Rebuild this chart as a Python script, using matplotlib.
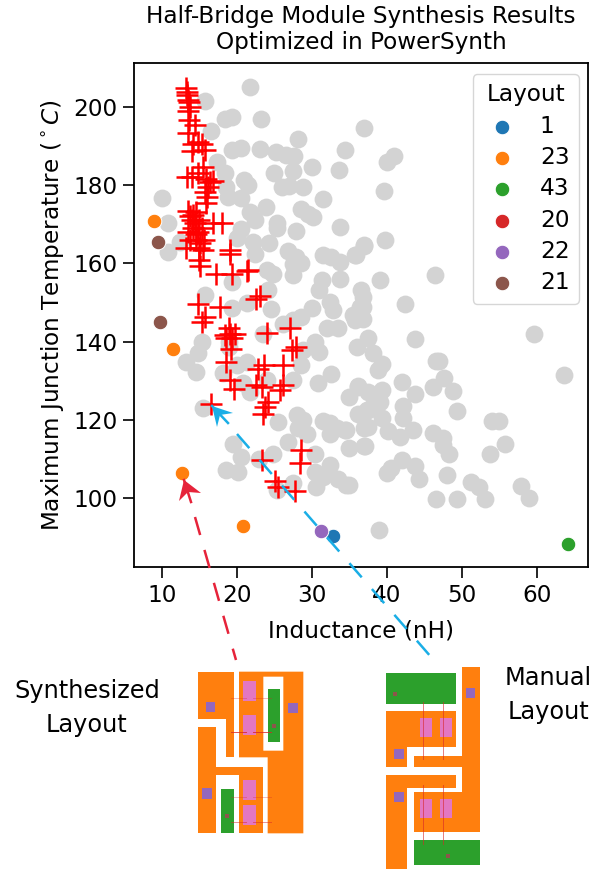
import matplotlib
matplotlib.use("Agg")
import matplotlib.pyplot as plt
from matplotlib.patches import Polygon, Rectangle

# all layouts in the background
other_x = [21.8,15.8,18.4,19.3,23.2,16.6,28.2,37,19.4,20.5,23.1,25.2,26.6,27.6,34.4,30,33.6,27.5,25,17.3,
           18.4,20.9,21.5,26,27,28.8,18.6,10,18.8,20.6,31.5,23.9,21.7,28.5,29.5,30.2,22.4,25.3,25.3,10.8,
           20.5,27.9,33.7,20,22.2,24.3,12.4,10.8,26.8,27.9,28.6,31.5,32.6,33.7,35.8,37,22.4,24,24.8,27.5,
           27.5,33.7,31.3,31,32.4,24.2,19.3,15.7,21.3,24.5,19.3,36.6,35.5,30,28.6,32.8,36.8,
           26.2,27.5,32,33.5,36,15.3,14.8,13.2,14.5,19,19,21.3,20,18.2,20.8,21.7,24,23.5,28.6,27.5,28.8,
           31,30.4,30.8,32.5,36.1,35,36.2,37.3,37,25.5,28,28.8,28.2,29.3,31.5,32.4,32.4,33.3,34.4,35,37,
           30.4,26.8,24.8,19.5,20.5,18.5,20.2,15.5,23,32.4,30.4,31.5,33.5,34.6,30.5,27.5,25.3,
           41,40,39.6,39.7,37,35.9,46.4,39.1,36.8,42.4,36.4,36.8,35.7,37.5,43.7,59.6,38.2,39.3,38.8,46.5,
           46.9,47.6,46.1,48.8,63.6,42,43.8,36.2,37.5,39.4,39.1,42.2,49.4,37.5,38,39.4,42.2,37.5,40.1,43.5,
           41.8,34.6,46.2,47.5,47.5,48.3,54,55,55.7,53.7,37.1,42,40.6,40,43.8,44.3,48,51.2,52.3,53.1,57.9,
           58.9,46.5,49.4,39,35]
other_y = [205,201.4,196.8,197.3,196.8,193.7,191.8,194.6,188.9,189.6,189.3,188.4,187.6,187.5,189,184.6,183.9,183.6,183,186,
           183,181.4,180,179.6,179.7,179.5,179.6,176.7,177,176.8,176.4,174.4,173.2,173.8,172.6,171.9,171.2,170.2,169,170.2,
           168.9,168.2,169.2,166.4,165.5,165.1,165.5,162.8,163.2,161.7,160.1,162.1,161.7,160.4,162.1,164.4,162.5,158.3,157.4,159.8,
           157,156,155.7,153.2,150.2,153.3,155.3,152,149.9,148.3,148.5,153.2,146.8,148.5,146.3,148,148.9,
           144.6,145.5,143.4,143.4,138.7,140,137,134.7,132.3,140,138.7,134.8,134,131.9,129.3,127.2,130.2,142,134,130.2,137.8,
           137.4,140,129.3,131.7,128.6,125.9,121.6,122.5,117.8,119.5,121.2,119.9,117.8,116.4,119.8,119.1,116.5,117.8,117.4,112.7,113.3,
           111.4,114.4,111.4,113.8,110.4,107.2,106.6,123.1,110,108.4,106.7,105.5,105,103.3,102.9,103.8,102,
           187.4,186,178.5,165.9,164.7,162.1,157,155.7,151.5,149.6,148.9,145.9,145.5,141,140.6,142,137,134.4,132.7,135,
           135,130.8,128.3,127.4,131.4,129.6,126.7,128.5,127.2,127.6,124.6,123.6,122.2,122.5,123.4,120.6,120.4,118.2,117.2,117.5,
           115.7,117.4,116.7,115.3,113.5,111.4,119.8,119.8,113.8,111.2,113.3,109.7,107.8,106.3,108.3,105,105.9,104.1,102.9,99.7,103.2,
           100.1,99.7,99.7,91.8,103.3]

# pareto front picked out in red
front_x = [13.2,13.3,13.5,13.6,13.5,13.6,14.4,13.5,14.8,15.3,14.2,14,15.7,13.3,14,14.8,15.5,16.4,16.2,15.7,
           15.9,13.5,14.2,14.4,18,16.8,13.5,14.6,15.1,13.2,15.5,19.1,19.1,15,15.1,17.2,19.3,21.5,21.3,23.1,
           22.6,14.8,17.7,15.7,15.3,19.1,18.4,19.3,19.2,24,27.1,27.9,27.3,26.1,18.6,22.8,23.6,19.1,19.6,22.6,
           23.3,26.2,25.7,24.2,23.7,23.5,16.6,23.4,28.5,28.4,25.1,25.5,27.8,
           13.7,14,14.6,15,14.2,15.3,14.5,15.6,13.8,15,14.8,13.4,13.7,16.8,15.9,16,18.5,18.9,19.7]
front_y = [204.9,203.8,201.7,201.3,199,196.6,195.3,193.4,191,190.6,190.6,188.8,188.9,182.1,182,183,184.5,180.8,179.6,178.3,
           175.3,173.4,172.3,170.2,170.4,170.2,168,167.6,165.2,164,163.4,163.4,162.5,160.8,159.3,157.2,157.2,158.4,158,151.6,
           151,149.6,148.9,146.3,145,142,141.7,140.8,138.2,142.3,143.5,138.7,137.8,134,134.8,133.1,134,130.2,127.9,128.9,
           128.5,128.9,127.6,124.6,123.3,121.6,124,109.7,112.3,108.9,104.3,102.9,101.9,
           172,171,173,171,169,169,166,166,166,164,168,203,200,181,181.5,177,141,143.5,142]

layouts = ["1", "23", "43", "20", "22", "21"]
layout_colors = ["C0", "C1", "C2", "C3", "C4", "C5"]
layout_x = [[32.8], [9, 11.5, 12.7, 20.8], [64.1], [], [31.2], [9.5, 9.7]]
layout_y = [[90.3], [170.9, 138, 106.5, 93], [88.2], [], [91.6], [165.5, 145]]

x_ticks = [10, 20, 30, 40, 50, 60]
y_ticks = [100, 120, 140, 160, 180, 200]

FS = 16.7
plt.rcParams["font.size"] = FS

W, H = 609.0, 869.0
fig = plt.figure(figsize=(6.09, 8.69), dpi=100)
ax = fig.add_axes([134 / W, 1 - 567 / H, (588 - 134) / W, (567 - 63) / H])

ax.scatter(other_x, other_y, s=165, color="lightgray", linewidths=0, zorder=2)
for name, col, xs, ys in zip(layouts, layout_colors, layout_x, layout_y):
    ax.scatter(xs, ys, s=110, color=col, edgecolors="white", linewidths=0.7, label=name, zorder=3)
ax.scatter(front_x, front_y, s=230, marker="+", color="red", linewidths=1.8, zorder=4)

ax.set_xlim(6.27, 66.8)
ax.set_ylim(82.4, 211.2)
ax.set_xticks(x_ticks)
ax.set_yticks(y_ticks)
ax.tick_params(length=8, width=1.2, pad=4)
for s in ax.spines.values():
    s.set_linewidth(1.3)
ax.set_xlabel("Inductance (nH)", labelpad=9)
ax.set_ylabel(r"Maximum Junction Temperature ($^\circ C$)", labelpad=5)
ax.set_title("Half-Bridge Module Synthesis Results\nOptimized in PowerSynth", fontsize=FS, pad=10, linespacing=1.2)

ax.legend(title="Layout", loc="upper right", bbox_to_anchor=(0.980, 0.978), fontsize=FS, title_fontsize=FS,
          markerscale=1.0, labelspacing=0.36, handlelength=1.7, handletextpad=0.8, borderpad=0.4, borderaxespad=0)

# overlay in picture pixels for the arrows and the two layout sketches
ov = fig.add_axes([0, 0, 1, 1], facecolor="none")
ov.set_xlim(0, W)
ov.set_ylim(H, 0)
ov.axis("off")

BLUE = "#1aaee6"
RED = "#e6233a"
ov.plot([237, 438], [434, 665], color=BLUE, lw=1.8, linestyle=(0, (7.5, 6.2)))
ov.plot([212, 228], [406, 423], color=BLUE, lw=1.8)
ov.add_patch(Polygon([(212, 406), (217, 427), (220, 415), (233, 413)], color=BLUE, lw=0))
ov.plot([195, 236], [517, 660], color=RED, lw=1.8, linestyle=(0, (7.5, 6.2)))
ov.plot([184, 191], [480, 502], color=RED, lw=1.8)
ov.add_patch(Polygon([(184, 480), (179, 501), (188, 492), (201, 493)], color=RED, lw=0))


def sketch(x0, y0, polys, greens, pinks, purples, browns, wires, wire_alpha):
    # coordinates below are in 3x crop units relative to x0, y0
    def to_px(p):
        return (x0 + p[0] / 3.0, y0 + p[1] / 3.0)
    for p in polys:
        ov.add_patch(Polygon([to_px(q) for q in p], facecolor="C1", edgecolor="none"))
    for col, group, z in [("C2", greens, 3), ("#e377c2", pinks, 3), ("#9467bd", purples, 4)]:
        for a, b, c, d in group:
            xa, ya = to_px((a, b))
            ov.add_patch(Rectangle((xa, ya), (c - a) / 3.0, (d - b) / 3.0, facecolor=col, edgecolor="none", zorder=z))
    for b in browns:
        xb, yb = to_px(b)
        ov.add_patch(Rectangle((xb - 2, yb - 2), 4, 4, facecolor="#8c564b", edgecolor="none", zorder=5))
    for (a, b, c, d), al in zip(wires, wire_alpha):
        xa, ya = to_px((a, b))
        xc, yc = to_px((c, d))
        ov.plot([xa, xc], [ya, yc], color="#d62728", lw=0.7, alpha=al, zorder=6)


sketch(180, 650,
       [[(55, 65), (162, 65), (162, 320), (138, 320), (138, 208), (55, 208)],
        [(55, 232), (107, 232), (107, 352), (248, 352), (248, 550), (177, 550), (177, 375), (107, 375), (107, 550), (55, 550)],
        [(177, 65), (370, 65), (370, 550), (263, 550), (263, 322), (177, 322), (177, 65), (250, 80), (250, 302), (310, 302), (310, 80), (250, 80)]],
       [(264, 118, 300, 276), (124, 417, 162, 550)],
       [(190, 93, 228, 152), (190, 196, 228, 256), (190, 390, 228, 450), (190, 466, 228, 526)],
       [(77, 156, 106, 185), (324, 159, 353, 189), (65, 415, 95, 446)],
       [(282, 227), (141, 497)],
       [(152, 143, 197, 143), (220, 143, 273, 143), (152, 247, 197, 247), (220, 247, 273, 247),
        (152, 440, 197, 440), (220, 440, 273, 440), (152, 517, 197, 517), (220, 517, 273, 517)],
       [0.3, 0.3, 0.8, 0.8, 0.3, 0.3, 0.5, 0.5])

sketch(370, 650,
       [[(49, 183), (258, 183), (258, 290), (110, 290), (110, 350), (49, 350)],
        [(276, 50), (331, 50), (331, 547), (133, 547), (133, 425), (276, 425), (276, 350), (133, 350), (133, 317), (276, 317)],
        [(49, 375), (258, 375), (258, 415), (110, 415), (110, 657), (49, 657)]],
       [(49, 70, 258, 161), (133, 571, 331, 646)],
       [(149, 203, 186, 261), (209, 203, 246, 261), (149, 447, 186, 503), (209, 447, 246, 503)],
       [(287, 114, 316, 144), (71, 298, 101, 327), (71, 425, 101, 455)],
       [(76, 133), (234, 618)],
       [(158, 155, 158, 328), (218, 155, 218, 328), (158, 405, 158, 582), (218, 405, 218, 582)],
       [0.6, 0.6, 0.6, 0.6])

ov.text(87, 708, "Synthesized\nLayout", ha="center", va="center", fontsize=17.3, linespacing=1.55)
ov.text(548, 695, "Manual\nLayout", ha="center", va="center", fontsize=17.3, linespacing=1.55)

fig.savefig("out.png", dpi=100)
